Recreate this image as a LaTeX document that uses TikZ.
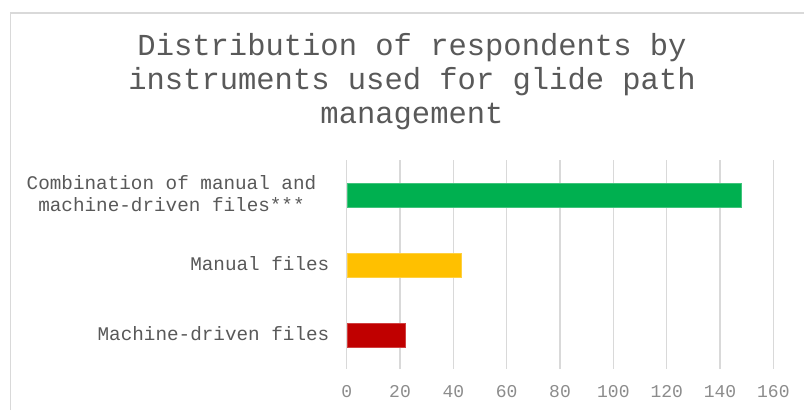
\documentclass[tikz,border=0pt]{standalone}
\usepackage{fontspec}
\newfontfamily\monofam{Liberation Mono}
\definecolor{titlec}{HTML}{595959}
\definecolor{labelc}{HTML}{595959}
\definecolor{tickc}{HTML}{8C8C8C}
\definecolor{gridc}{HTML}{D9D9D9}
\definecolor{greenbar}{HTML}{00B050}
\definecolor{yellowbar}{HTML}{FFC000}
\definecolor{redbar}{HTML}{C00000}
\tikzset{
  titletext/.style={font=\monofam\fontsize{30.5bp}{34bp}\selectfont, text=titlec, inner sep=0pt, align=center},
  cattext/.style={font=\monofam\fontsize{19.3bp}{22.4bp}\selectfont, text=labelc, inner sep=0pt},
  ticktext/.style={font=\monofam\fontsize{18bp}{20bp}\selectfont, text=tickc, inner sep=0pt, anchor=base},
  gridline/.style={draw=gridc, line width=1.5bp},
  barbox/.style={inner sep=0pt, minimum height=24bp, anchor=west, line width=0.8bp},
}
\begin{document}
\begin{tikzpicture}[x=1bp,y=-1bp]
\useasboundingbox (0,0) rectangle (804,410);
\fill[white] (0,0) rectangle (804,410);
% chart border
\coordinate (bl) at (10.5,410);
\coordinate (tl) at (10.5,13);
\coordinate (tr) at (804,13);
\draw[gridc, line width=1.6bp] (bl) -- (tl) -- (tr);
% gridlines and tick labels
\foreach \v [count=\i from 0] in {0,20,40,60,80,100,120,140,160}{
  \coordinate (gt\i) at ({346.7+\i*53.333},160);
  \coordinate (gb\i) at ({346.7+\i*53.333},368.5);
  \draw[gridline] (gt\i) -- (gb\i);
  \node[ticktext] (tick\i) at ({346.7+\i*53.333},397.7) {\v};
}
% bars
\node[barbox, fill=greenbar, draw=greenbar!75!white, minimum width={148*2.6667bp}] (barC) at (346.7,195.3) {};
\node[barbox, fill=yellowbar, draw=yellowbar!75!white, minimum width={43*2.6667bp}] (barM) at (346.7,265.3) {};
\node[barbox, fill=redbar, draw=redbar!75!white, minimum width={22*2.6667bp}] (barD) at (346.7,335.3) {};
% category labels
\node[cattext, align=center, anchor=base] (labC) at (171.5,211.7) {Combination of manual and\\machine-driven files***};
\node[cattext, anchor=base east] (labM) at (329.5,270.7) {Manual files};
\node[cattext, anchor=base east] (labD) at (329.5,340.7) {Machine-driven files};
% title
\node[titletext, anchor=base] (title) at (412,123) {Distribution of respondents by\\instruments used for glide path\\management};
\end{tikzpicture}
\end{document}
